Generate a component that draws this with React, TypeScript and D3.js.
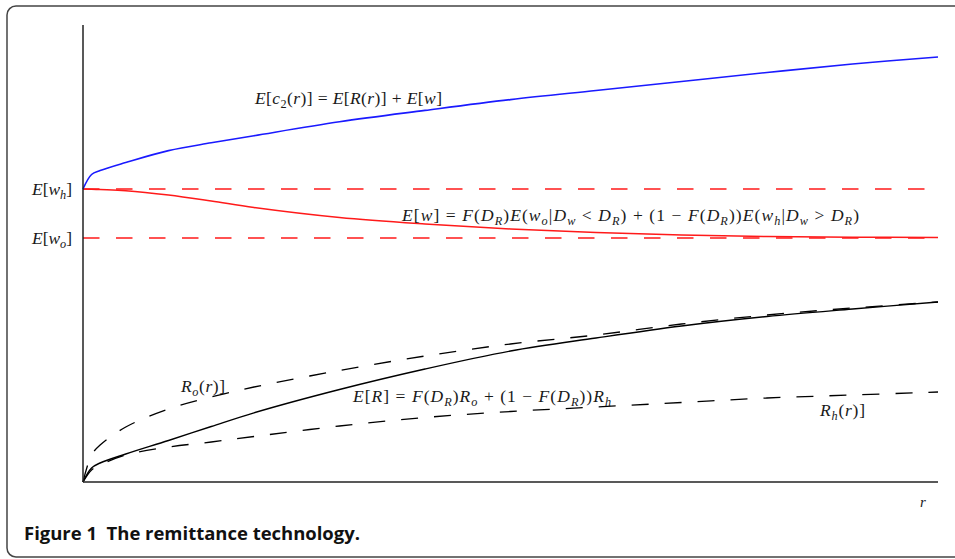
import React from 'react';
import * as d3 from 'd3';

// r grid (unitless, 0..100)
const rValues = [0, 1, 2, 5, 10, 15, 20, 30, 40, 50, 60, 70, 80, 90, 100];
// E[w]
const expectedWage = [293, 292.8, 292.4, 291.3, 287, 281, 274.5, 264.5, 258, 253, 249.5, 247, 245.5, 244.8, 244.5];
// E[R]
const expectedRemit = [0, 14, 19, 28, 41.5, 55.5, 69.2, 92.5, 113, 131, 144, 156, 165.5, 173, 180];
// E[c2(r)]
const expectedC2 = [293, 307.5, 311.5, 319.5, 331.4, 339.2, 346.3, 360.2, 371.6, 382.4, 391.5, 400.5, 409.5, 418, 425];
// R_o(r)
const remitOrigin = [0, 27, 37, 55, 73, 85, 95, 111.5, 126, 138, 147, 158, 167, 174, 180];
// R_h(r)
const remitHost = [0, 12, 17, 27, 35, 40, 45.5, 56, 64.5, 70.5, 75, 79.5, 84, 87, 90];
// reference levels
const wageLevels = [293, 244];
const wageLevelLabels = ['E[w_h]', 'E[w_o]'];

const labelC2 = 'E[c_2(r)] = E[R(r)] + E[w]';
const labelW = 'E[w] = F(D_R)E(w_o|D_w < D_R) + (1 \u2212 F(D_R))E(w_h|D_w > D_R)';
const labelR = 'E[R] = F(D_R)R_o + (1 \u2212 F(D_R))R_h';
const labelRo = 'R_o(r)]';
const labelRh = 'R_h(r)]';
const caption = 'Figure 1  The remittance technology.';

const W = 955, H = 559;
const x = d3.scaleLinear().domain([0, 100]).range([83, 938]);
const y = d3.scaleLinear().domain([0, 457]).range([482, 25]);

type Seg = { text: string; italic: boolean; sub: boolean };

function parseMath(src: string): Seg[] {
  const segs: Seg[] = [];
  let i = 0;
  while (i < src.length) {
    let ch = src[i];
    let sub = false;
    if (ch === '_') { sub = true; i++; ch = src[i]; }
    const italic = /[A-Za-z]/.test(ch);
    const last = segs[segs.length - 1];
    if (last && last.italic === italic && last.sub === sub) last.text += ch;
    else segs.push({ text: ch, italic, sub });
    i++;
  }
  return segs;
}

function MathText({ x0, y0, src, size = 17.5, anchor = 'start', len }: { x0: number; y0: number; src: string; size?: number; anchor?: string; len?: number }) {
  const segs = parseMath(src);
  const shift = size * 0.22;
  let prevSub = false;
  return (
    <text x={x0} y={y0} fontFamily="'Liberation Serif', 'DejaVu Serif', serif" fontSize={size} textAnchor={anchor as any} fill="#1a1a1a"
      style={{ whiteSpace: 'pre' }} {...(len ? { textLength: len, lengthAdjust: 'spacing' } : {})}>
      {segs.map((s, k) => {
        let dy = 0;
        if (s.sub && !prevSub) dy = shift;
        if (!s.sub && prevSub) dy = -shift;
        prevSub = s.sub;
        return (
          <tspan key={k} dy={dy} fontStyle={s.italic ? 'italic' : 'normal'} fontSize={s.sub ? size * 0.7 : size}>{s.text}</tspan>
        );
      })}
    </text>
  );
}

export default function App() {
  const mk = (vals: number[]) =>
    d3.line<number>().x((_, i) => x(rValues[i])).y(v => y(v)).curve(d3.curveCatmullRom.alpha(0.5))(vals) || '';

  return (
    <svg width={W} height={H} style={{ position: 'absolute', left: 0, top: 0, background: '#fff' }}>
      <rect x={7} y={6} width={970} height={551} rx={9} fill="none" stroke="#444" strokeWidth={1.5} />

      {/* reference dashed levels */}
      {wageLevels.map((v, i) => (
        <line key={i} x1={x(0)} x2={x(100)} y1={y(v)} y2={y(v)} stroke="#ff1a1a" strokeWidth={1.7} strokeDasharray="16.5,16.5" />
      ))}

      {/* curves */}
      <path d={mk(remitOrigin)} fill="none" stroke="#000" strokeWidth={1.3} strokeDasharray="17,16" />
      <path d={mk(remitHost)} fill="none" stroke="#000" strokeWidth={1.3} strokeDasharray="17,16" />
      <path d={mk(expectedRemit)} fill="none" stroke="#000" strokeWidth={1.4} />
      <path d={mk(expectedWage)} fill="none" stroke="#ff1a1a" strokeWidth={1.5} />
      <path d={mk(expectedC2)} fill="none" stroke="#1a1aff" strokeWidth={1.6} />

      {/* axes */}
      <line x1={x(0)} x2={x(0)} y1={y(0)} y2={y(457)} stroke="#222" strokeWidth={1.5} />
      <line x1={x(0)} x2={x(100)} y1={y(0)} y2={y(0)} stroke="#222" strokeWidth={1.5} />

      {/* y level labels */}
      {wageLevels.map((v, i) => (
        <MathText key={i} x0={32} y0={y(v) + 6} src={wageLevelLabels[i]} size={17.5} len={40} />
      ))}

      <MathText x0={255} y0={104} src={labelC2} len={187} />
      <MathText x0={402} y0={221} src={labelW} len={457} />
      <MathText x0={353} y0={402} src={labelR} len={258} />
      <MathText x0={181} y0={392} src={labelRo} len={44} />
      <MathText x0={820} y0={416} src={labelRh} len={45} />
      <MathText x0={920} y0={507} src="r" size={15} />

      <text x={24} y={540} fontFamily="'Open Sans', Lato, sans-serif" fontWeight="bold" fontSize={18.5} fill="#111"
        style={{ whiteSpace: 'pre' }} textLength={336} lengthAdjust="spacingAndGlyphs">{caption}</text>
    </svg>
  );
}
